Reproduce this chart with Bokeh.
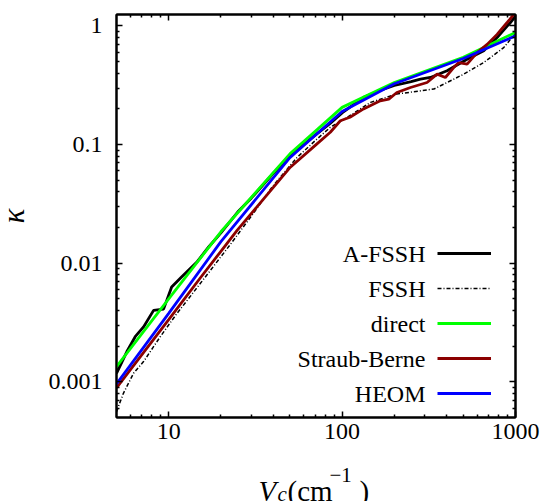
import math
from bokeh.plotting import figure
from bokeh.layouts import column
from bokeh.models import (Range1d, FixedTicker, LogAxis, CustomJSTickFormatter,
                          Legend, LegendItem, Label)
from bokeh.embed import file_html
from bokeh.resources import INLINE
from bokeh.core.properties import value

# ---------------- data ----------------
afssh_x = [5, 5.74, 6.41, 7.16, 8.18, 9.34, 10.4, 11.9, 14.6, 17, 20, 25, 30, 40, 50, 70,
           85, 100, 133, 170, 200, 250, 283, 323, 403, 526, 656, 783, 935, 1000]
afssh_y = [0.00118, 0.0018, 0.0024, 0.0029, 0.0040, 0.0041, 0.0063, 0.0077, 0.0103, 0.0137,
           0.0180, 0.027, 0.0355, 0.057, 0.080, 0.12, 0.150, 0.185, 0.25, 0.29, 0.315, 0.34,
           0.356, 0.368, 0.419, 0.525, 0.617, 0.798, 1.07, 1.21]

fssh_x = [5, 5.48, 6.27, 7.16, 8.94, 11.2, 12.7, 17.4, 22.6, 30, 40, 55, 70, 85.5, 107, 146,
          207, 338, 504, 656, 855, 1000]
fssh_y = [0.00056, 0.0008, 0.00118, 0.00148, 0.0024, 0.0038, 0.0048, 0.0087, 0.0143, 0.025,
          0.045, 0.078, 0.108, 0.140, 0.170, 0.227, 0.267, 0.294, 0.393, 0.492, 0.657, 0.87]

direct_x = [5, 10, 20, 50, 100, 200, 500, 1000]
direct_y = [0.00134, 0.0050, 0.0184, 0.0835, 0.206, 0.334, 0.545, 0.882]

sb_x = [5, 10, 15.2, 20, 24.8, 30, 40, 50.3, 70, 85.5, 97.7, 111, 133, 166, 186, 207, 248,
        309, 353, 394, 440, 471, 526, 601, 686, 783, 895, 1000]
sb_y = [0.00089, 0.00334, 0.0075, 0.0126, 0.0189, 0.0263, 0.0434, 0.0645, 0.0985, 0.127,
        0.159, 0.170, 0.20, 0.234, 0.242, 0.275, 0.303, 0.334, 0.393, 0.368, 0.446, 0.492,
        0.477, 0.597, 0.70, 0.85, 1.07, 1.3]

heom_x = [5, 10, 20, 50, 100, 200, 500, 1000]
heom_y = [0.00096, 0.00378, 0.0152, 0.0775, 0.190, 0.326, 0.532, 0.826]

series_names = ["A-FSSH", "FSSH", "direct", "Straub-Berne", "HEOM"]

x_major = [10, 100, 1000]
y_major = [0.001, 0.01, 0.1, 1]

XMIN, XMAX = 5, 1000
YMIN, YMAX = 0.0005, 1.25

x_minor = [m * 10 ** k for k in range(0, 3) for m in range(2, 10) if XMIN < m * 10 ** k < XMAX]
y_minor = [round(m * 10.0 ** k, 6) for k in range(-4, 1) for m in range(2, 10)
           if YMIN < m * 10.0 ** k < YMAX]

FONT = "Liberation Serif"

# the layout is shifted 8px to the left (negative margin) so that the kappa title
# can sit as far out as in the reference while the frame stays at x = 116
p_main = figure(width=550, height=455, x_axis_type="log", y_axis_type="log",
                x_range=Range1d(XMIN, XMAX), y_range=Range1d(YMIN, YMAX),
                output_backend="svg", toolbar_location=None,
                min_border_left=124, min_border_right=27, min_border_top=14,
                min_border_bottom=38)

p_main.grid.visible = False
p_main.outline_line_color = "black"
p_main.outline_line_width = 2
p_main.background_fill_color = "white"
p_main.border_fill_color = "white"

label_fmt = CustomJSTickFormatter(code="return String(tick);")
empty_fmt = CustomJSTickFormatter(code="return '';")


def style_axis(ax, major, minor, fmt, standoff):
    ax.ticker = FixedTicker(ticks=major, minor_ticks=minor)
    ax.formatter = fmt
    ax.axis_line_width = 2
    ax.axis_line_color = "black"
    ax.major_tick_in = 6
    ax.major_tick_out = 0
    ax.minor_tick_in = 3
    ax.minor_tick_out = 0
    ax.major_tick_line_width = 1.5
    ax.minor_tick_line_width = 1.5
    ax.major_label_text_font = FONT
    ax.major_label_text_font_size = "24px"
    ax.major_label_text_color = "black"
    ax.major_label_standoff = standoff


style_axis(p_main.xaxis[0], x_major, x_minor, label_fmt, 6)
style_axis(p_main.yaxis[0], y_major, y_minor, label_fmt, 14)

yax = p_main.yaxis[0]
yax.axis_label = "κ"
yax.axis_label_text_font = FONT
yax.axis_label_text_font_style = "italic"
yax.axis_label_text_font_size = "31px"
yax.axis_label_text_color = "black"
yax.axis_label_standoff = 15

top = LogAxis()
style_axis(top, x_major, x_minor, empty_fmt, 0)
top.major_label_text_font_size = "1px"
p_main.add_layout(top, "above")

right = LogAxis()
style_axis(right, y_major, y_minor, empty_fmt, 0)
right.major_label_text_font_size = "1px"
p_main.add_layout(right, "right")

# ---------------- curves ----------------
r_afssh = p_main.line(afssh_x, afssh_y, line_color="black", line_width=2.8)
r_fssh = p_main.line(fssh_x, fssh_y, line_color="black", line_width=1.5, line_dash="4 2 1 2")
r_direct = p_main.line(direct_x, direct_y, line_color="#00ff00", line_width=2.8)
r_sb = p_main.line(sb_x, sb_y, line_color="#8b0000", line_width=2.8)
r_heom = p_main.line(heom_x, heom_y, line_color="#0000ff", line_width=2.8)
renderers = [r_afssh, r_fssh, r_direct, r_sb, r_heom]

# ---------------- legend (samples) + labels on their left ----------------
legend = Legend(items=[LegendItem(label=value(" "), renderers=[r]) for r in renderers],
                location=(321, 14), glyph_width=54, glyph_height=20, label_height=20,
                label_width=0, label_standoff=0, spacing=15, padding=0, margin=0,
                border_line_color=None, background_fill_alpha=0,
                label_text_font_size="1px")
p_main.add_layout(legend)

for i, name in enumerate(series_names):
    p_main.add_layout(Label(x=309, y=24 + (4 - i) * 35, x_units="screen", y_units="screen",
                            text=name, text_align="right", text_baseline="middle",
                            text_font=FONT, text_font_size="24px", text_color="black"))

# ---------------- x axis title strip (frame aligned with the plot frame) ----------------
p_xlab = figure(width=550, height=46, output_backend="svg", toolbar_location=None,
                x_axis_location=None, y_axis_location=None,
                min_border_left=124, min_border_right=27, min_border_top=0,
                min_border_bottom=0,
                x_range=Range1d(0, 1), y_range=Range1d(0, 1))
p_xlab.grid.visible = False
p_xlab.outline_line_color = None
p_xlab.background_fill_color = "white"
p_xlab.border_fill_color = "white"

xlab_parts = [("V", 142, 11, "29px", "italic"),
              ("c", 161, 8, "21px", "italic"),
              ("(cm", 171, 11, "29px", "normal"),
              ("−1", 213, 27, "21px", "normal"),
              (")", 243, 11, "29px", "normal")]
for txt, lx, ly, fs, st in xlab_parts:
    p_xlab.add_layout(Label(x=lx, y=ly, x_units="screen", y_units="screen", text=txt,
                            text_align="left", text_baseline="alphabetic",
                            text_font=FONT, text_font_style=st, text_font_size=fs,
                            text_color="black"))

p = column(p_main, p_xlab, spacing=0, margin=(0, 0, 0, -8))

open("out.html", "w").write(file_html(p, INLINE))
